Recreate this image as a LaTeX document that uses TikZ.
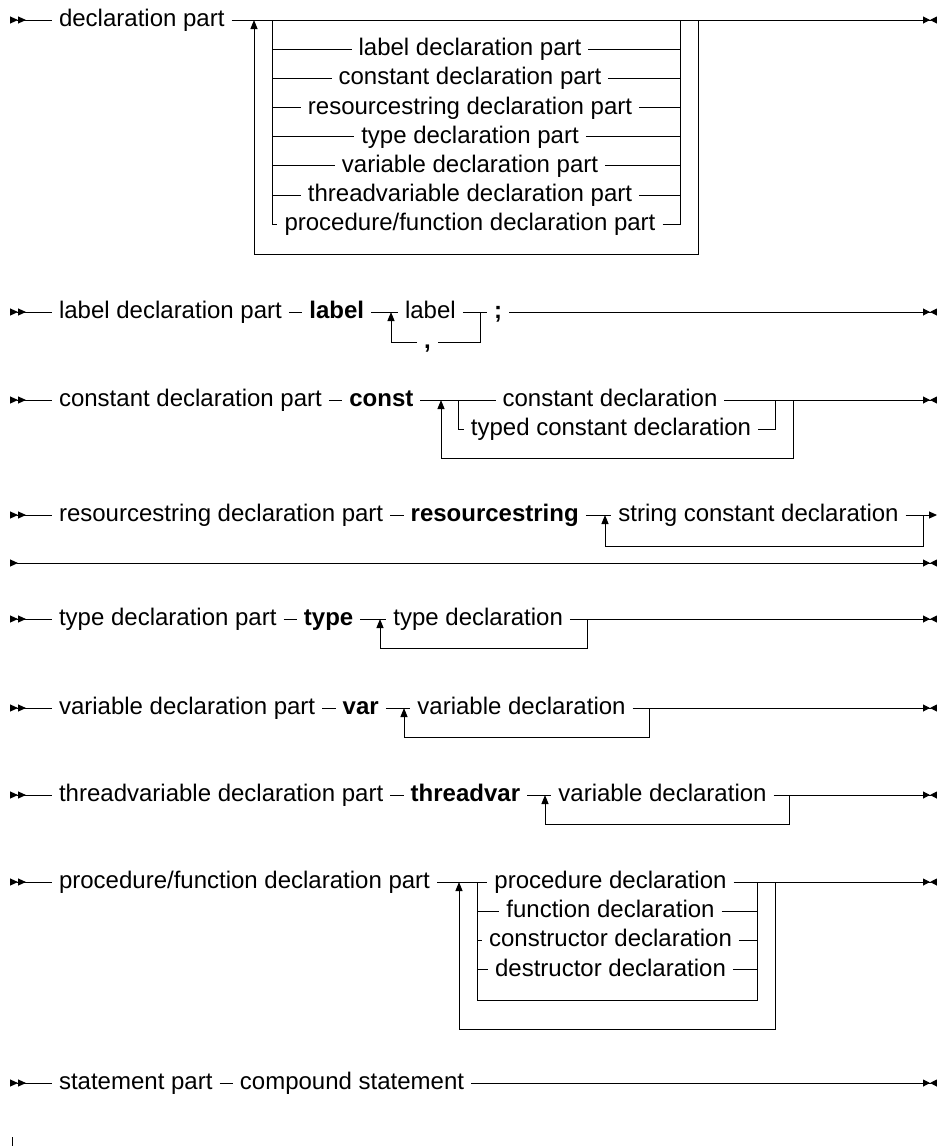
\documentclass[tikz,border=0pt]{standalone}
\usepackage{fontspec}
\setmainfont{Liberation Sans}
\usetikzlibrary{arrows.meta,positioning}
\tikzset{
  rail/.style={line width=0.5pt},
  item/.style={inner xsep=3.33pt,inner ysep=0pt,text height=9pt,text depth=2.5pt,
    font=\fontsize{12}{14}\selectfont},
  kw/.style={item,font=\fontsize{12}{14}\selectfont\bfseries},
  rin/.tip={Triangle[reversed,length=4pt,width=3.5pt,sep=0pt]Triangle[reversed,length=4pt,width=3.5pt,sep=0pt]},
  rout/.tip={Triangle[length=3.5pt,width=3.5pt,sep=0pt]Triangle[reversed,length=3.5pt,width=3.5pt,sep=0pt]},
  rcont/.tip={Triangle[length=4pt,width=3.5pt]},
  rnext/.tip={Triangle[reversed,length=4pt,width=3.5pt]},
  rloop/.tip={Triangle[length=4.5pt,width=3.5pt]},
}
\begin{document}
\begin{tikzpicture}[x=0.5pt,y=-0.5pt,node distance=6.67pt]
  \useasboundingbox (0,0) rectangle (937,1146);
  % declaration part
  \coordinate (s1) at (10,20);
  \coordinate (e1) at (937,20);
  \node[item,anchor=west] (decl) at (52,20) {declaration part};
  \coordinate (d1a) at (254,20);
  \coordinate (d1b) at (698,20);
  \coordinate (d1c) at (254,254);
  \coordinate (c1a) at (272,20);
  \coordinate (c1b) at (680,20);
  \draw[rail,{rin}-] (s1) -- (decl);
  \draw[rail,-{rout}] (decl) -- (e1);
  \draw[rail,-{rloop}] (d1b) |- (d1c) -- (d1a);
  \foreach \txt [count=\i] in {label declaration part,constant declaration part,
      resourcestring declaration part,type declaration part,variable declaration part,
      threadvariable declaration part,procedure/function declaration part}{
    \node[item] (part\i) at (470,{20+29.17*\i}) {\txt};
    \draw[rail] (c1a) |- (part\i) -| (c1b);
  }

  % label declaration part
  \coordinate (s2) at (10,312);
  \coordinate (e2) at (937,312);
  \node[item,anchor=west] (lpart) at (52,312) {label declaration part};
  \node[kw,right=of lpart] (klabel) {label};
  \node[item,anchor=west] (lab) at (398,312) {label};
  \node[kw,anchor=west] (semi) at (487,312) {;};
  \node[kw] (comma) at (427.5,342) {,};
  \coordinate (l2a) at (391,312);
  \coordinate (l2b) at (480,312);
  \draw[rail,{rin}-] (s2) -- (lpart);
  \draw[rail] (lpart) -- (klabel) -- (lab) -- (semi);
  \draw[rail,-{rout}] (semi) -- (e2);
  \draw[rail] (l2b) |- (comma);
  \draw[rail,-{rloop}] (comma) -| (l2a);

  % constant declaration part
  \coordinate (s3) at (10,400);
  \coordinate (e3) at (937,400);
  \node[item,anchor=west] (cpart) at (52,400) {constant declaration part};
  \node[kw,right=of cpart] (kconst) {const};
  \node[item] (cdecl) at (610,400) {constant declaration};
  \node[item] (tcdecl) at (611,429) {typed constant declaration};
  \coordinate (c3a) at (458,400);
  \coordinate (c3b) at (775,400);
  \coordinate (l3a) at (441,400);
  \coordinate (l3b) at (793,400);
  \coordinate (l3c) at (441,458);
  \draw[rail,{rin}-] (s3) -- (cpart);
  \draw[rail] (cpart) -- (kconst) -- (cdecl);
  \draw[rail,-{rout}] (cdecl) -- (e3);
  \draw[rail] (c3a) |- (tcdecl) -| (c3b);
  \draw[rail,-{rloop}] (l3b) |- (l3c) -- (l3a);

  % resourcestring declaration part
  \coordinate (s4) at (10,515);
  \coordinate (e4) at (937,515);
  \node[item,anchor=west] (rpart) at (52,515) {resourcestring declaration part};
  \node[kw,right=of rpart] (kres) {resourcestring};
  \node[item,anchor=west] (scdecl) at (611.4,515) {string constant declaration};
  \coordinate (l4a) at (605,515);
  \coordinate (l4b) at (923,515);
  \coordinate (l4c) at (605,546);
  \draw[rail,{rin}-] (s4) -- (rpart);
  \draw[rail] (rpart) -- (kres) -- (scdecl);
  \draw[rail,-{rcont}] (scdecl) -- (e4);
  \draw[rail,-{rloop}] (l4b) |- (l4c) -- (l4a);
  \coordinate (s4b) at (10,563);
  \coordinate (e4b) at (937,563);
  \draw[rail,{rnext}-{rout}] (s4b) -- (e4b);

  % type, variable and threadvariable declaration parts
  \foreach \y/\part/\key/\what/\la/\lb/\lw [count=\i] in {
      619/type declaration part/type/type declaration/380/587/386.4,
      708/variable declaration part/var/variable declaration/404/649/410.4,
      795/threadvariable declaration part/threadvar/variable declaration/545/789/551.4}{
    \coordinate (vs\i) at (10,\y);
    \coordinate (ve\i) at (937,\y);
    \node[item,anchor=west] (vpart\i) at (52,\y) {\part};
    \node[kw,right=of vpart\i] (vkey\i) {\key};
    \node[item,anchor=west] (vdecl\i) at (\lw,\y) {\what};
    \coordinate (vla\i) at (\la,\y);
    \coordinate (vlb\i) at (\lb,\y);
    \coordinate (vlc\i) at (\la,{\y+29});
    \draw[rail,{rin}-] (vs\i) -- (vpart\i);
    \draw[rail] (vpart\i) -- (vkey\i) -- (vdecl\i);
    \draw[rail,-{rout}] (vdecl\i) -- (ve\i);
    \draw[rail,-{rloop}] (vlb\i) |- (vlc\i) -- (vla\i);
  }

  % procedure/function declaration part
  \coordinate (s8) at (10,882);
  \coordinate (e8) at (937,882);
  \node[item,anchor=west] (ppart) at (52,882) {procedure/function declaration part};
  \node[item] (pdecl) at (610.5,882) {procedure declaration};
  \coordinate (o8a) at (459,882);
  \coordinate (o8b) at (775,882);
  \coordinate (o8c) at (459,1029);
  \coordinate (c8a) at (477,882);
  \coordinate (c8b) at (757,882);
  \coordinate (c8c) at (757,1000);
  \draw[rail,{rin}-] (s8) -- (ppart);
  \draw[rail] (ppart) -- (pdecl);
  \draw[rail,-{rout}] (pdecl) -- (e8);
  \foreach \txt [count=\i] in {function declaration,constructor declaration,destructor declaration}{
    \node[item] (sub\i) at (610.5,{882+29.2*\i}) {\txt};
    \draw[rail] (c8a) |- (sub\i) -| (c8b);
  }
  \draw[rail] (c8a) |- (c8c) -- (c8b);
  \draw[rail,-{rloop}] (o8b) |- (o8c) -- (o8a);

  % statement part
  \coordinate (s9) at (10,1083);
  \coordinate (e9) at (937,1083);
  \node[item,anchor=west] (spart) at (52,1083) {statement part};
  \node[item,right=of spart] (cstat) {compound statement};
  \draw[rail,{rin}-] (s9) -- (spart);
  \draw[rail] (spart) -- (cstat);
  \draw[rail,-{rout}] (cstat) -- (e9);

  \coordinate (tk1) at (12,1137);
  \coordinate (tk2) at (12,1146);
  \draw[rail] (tk1) -- (tk2);
\end{tikzpicture}
\end{document}
